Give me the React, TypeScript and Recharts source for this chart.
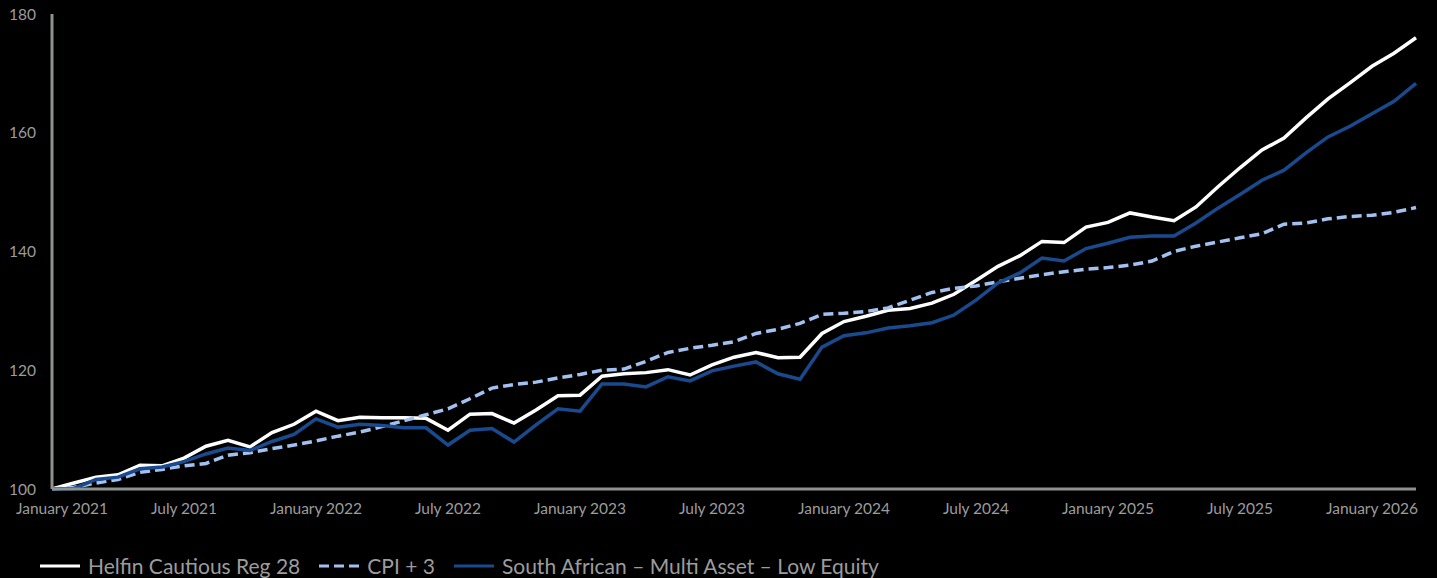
import React from "react";
import { LineChart, Line, XAxis, YAxis, Legend } from "recharts";

const monthNames = ["January", "February", "March", "April", "May", "June", "July", "August", "September", "October", "November", "December"];
const years = [2021, 2022, 2023, 2024, 2025, 2026];

// Jan 2021 .. Mar 2026
const months: string[] = [];
years.forEach((y) => monthNames.forEach((m) => months.push(`${m} ${y}`)));
months.splice(63);

const tickLabels = [
  "January 2021", "July 2021", "January 2022", "July 2022", "January 2023", "July 2023",
  "January 2024", "July 2024", "January 2025", "July 2025", "January 2026",
];

const seriesNames = ["Helfin Cautious Reg 28", "CPI + 3", "South African – Multi Asset – Low Equity"];

const helfin = [
  100, 101.0, 102.0, 102.4, 104.0, 103.9, 105.2, 107.2, 108.2, 107.1, 109.5, 110.9,
  113.1, 111.5, 112.1, 112.0, 112.0, 111.9, 109.9, 112.6, 112.7, 111.1, 113.3, 115.7,
  115.8, 119.0, 119.4, 119.6, 120.1, 119.2, 120.9, 122.2, 123.0, 122.1, 122.2, 126.2,
  128.2, 129.1, 130.1, 130.4, 131.3, 132.8, 135.1, 137.5, 139.3, 141.7, 141.5, 144.1,
  144.9, 146.5, 145.8, 145.2, 147.5, 150.9, 154.1, 157.1, 159.1, 162.5, 165.7, 168.4,
  171.2, 173.4, 176.0,
];

const cpi = [
  100, 100.3, 101.0, 101.6, 102.8, 103.3, 103.9, 104.3, 105.7, 106.1, 106.8, 107.4,
  108.1, 108.9, 109.6, 110.5, 111.5, 112.5, 113.5, 115.2, 117.0, 117.6, 118.0, 118.7,
  119.3, 120.0, 120.2, 121.5, 123.0, 123.7, 124.2, 124.8, 126.2, 126.9, 127.9, 129.4,
  129.6, 129.9, 130.5, 131.8, 133.1, 133.8, 134.2, 134.9, 135.5, 136.1, 136.6, 137.0,
  137.3, 137.7, 138.4, 140.0, 140.9, 141.6, 142.3, 143.0, 144.6, 144.8, 145.5, 145.9,
  146.1, 146.6, 147.4,
];

const lowEquity = [
  100, 100.1, 101.6, 102.0, 103.4, 103.7, 104.6, 105.9, 106.9, 106.5, 108.0, 109.2,
  111.8, 110.4, 110.9, 110.7, 110.3, 110.3, 107.4, 109.9, 110.2, 107.9, 110.8, 113.5,
  113.1, 117.7, 117.7, 117.2, 118.9, 118.2, 119.9, 120.7, 121.4, 119.4, 118.5, 123.9,
  125.8, 126.3, 127.1, 127.5, 128.0, 129.3, 131.8, 134.7, 136.4, 138.9, 138.4, 140.5,
  141.4, 142.4, 142.6, 142.6, 144.8, 147.3, 149.6, 152.0, 153.7, 156.6, 159.3, 161.1,
  163.2, 165.3, 168.3,
];

const data = months.map((m, i) => ({
  month: m,
  helfin: helfin[i],
  cpi: cpi[i],
  lowEquity: lowEquity[i],
}));

const FONT = "Lato, sans-serif";
const GREY = "#9c9c9c";

const XTick = (props: any) => {
  const { x, y, payload, index } = props;
  const shift = index === 0 ? 10 : 0;
  return (
    <text x={x + shift} y={y + 17} textAnchor="middle" fill={GREY} fontSize={15.5} fontFamily={FONT}>
      {payload.value}
    </text>
  );
};

const LegendBox = (props: any) => {
  const items = [...(props.payload || [])].sort(
    (a: any, b: any) => seriesNames.indexOf(a.value) - seriesNames.indexOf(b.value)
  );
  return (
    <div style={{ display: "flex", alignItems: "center", paddingLeft: 40, paddingTop: 4, fontFamily: FONT }}>
      {items.map((p: any) => (
        <div key={p.value} style={{ display: "flex", alignItems: "center", marginRight: 19 }}>
          <svg width={40} height={10} style={{ marginRight: 8 }}>
            <line
              x1={0}
              y1={5}
              x2={40}
              y2={5}
              stroke={p.color}
              strokeWidth={3}
              strokeDasharray={p.payload.strokeDasharray}
            />
          </svg>
          <span style={{ color: GREY, fontSize: 21 }}>{p.value}</span>
        </div>
      ))}
    </div>
  );
};

export default function App() {
  return (
    <div style={{ position: "fixed", left: 0, top: 0, width: 1437, height: 578, background: "#000" }}>
      <LineChart width={1437} height={578} data={data} margin={{ top: 14, right: 21, left: 0, bottom: 0 }}>
        <XAxis
          dataKey="month"
          ticks={tickLabels}
          tick={<XTick />}
          tickLine={false}
          axisLine={{ stroke: "#8c928f", strokeWidth: 3 }}
          height={60}
          interval={0}
        />
        <YAxis
          domain={[100, 180]}
          ticks={[100, 120, 140, 160, 180]}
          width={52}
          tickLine={false}
          tickSize={14}
          axisLine={{ stroke: "#8c928f", strokeWidth: 3 }}
          tick={{ fill: GREY, fontSize: 15.5, fontFamily: FONT }}
        />
        <Legend verticalAlign="bottom" align="left" height={29} content={<LegendBox />} />
        <Line
          dataKey="helfin"
          name={seriesNames[0]}
          stroke="#ffffff"
          strokeWidth={3.5}
          dot={false}
          isAnimationActive={false}
        />
        <Line
          dataKey="cpi"
          name={seriesNames[1]}
          stroke="#a3c1f0"
          strokeWidth={3.5}
          strokeDasharray="10 5"
          dot={false}
          isAnimationActive={false}
        />
        <Line
          dataKey="lowEquity"
          name={seriesNames[2]}
          stroke="#1a4a8e"
          strokeWidth={3.5}
          dot={false}
          isAnimationActive={false}
        />
      </LineChart>
    </div>
  );
}
